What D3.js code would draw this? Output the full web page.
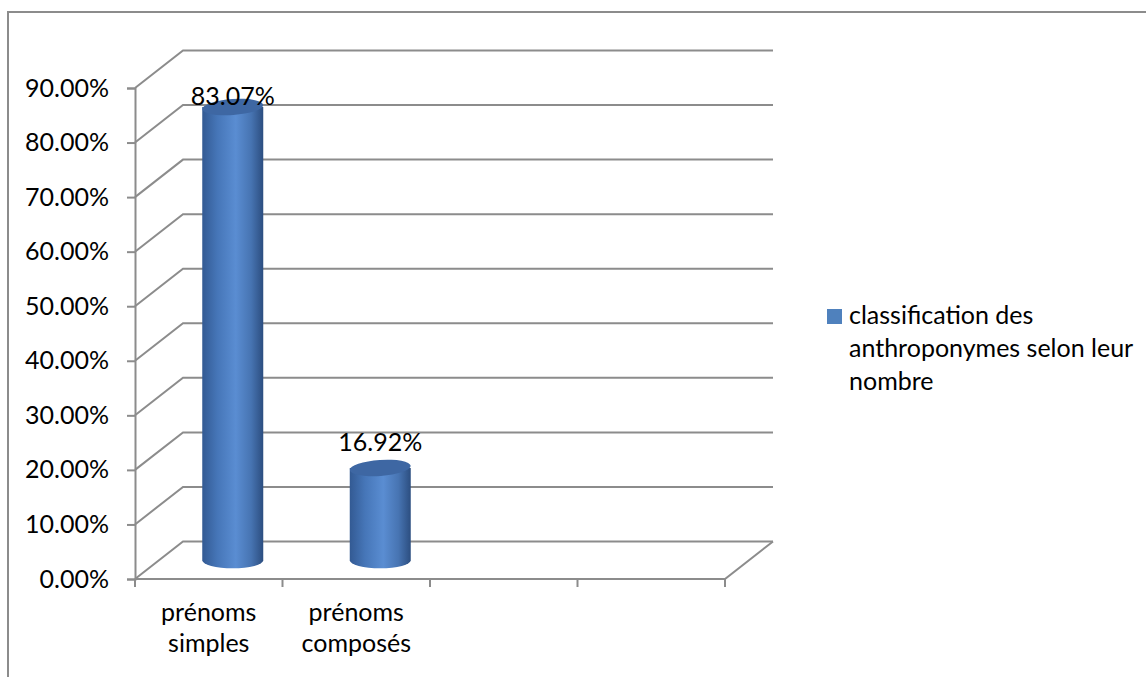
<!DOCTYPE html>
<html>
<head>
<meta charset="utf-8">
<script src="https://cdn.jsdelivr.net/npm/d3@7"></script>
<style>
  body { margin: 0; background: #fff; }
  svg { display: block; font-family: Lato, 'Open Sans', sans-serif; }
</style>
</head>
<body>
<svg></svg>
<script>
// data
var categories = ['prénoms simples', 'prénoms composés', '', '']
var values = [0.8307, 0.1692, null, null]
var labels = ['83.07%', '16.92%']
var yTicks = [0, 0.1, 0.2, 0.3, 0.4, 0.5, 0.6, 0.7, 0.8, 0.9]
var seriesName = ['classification des', 'anthroponymes selon leur', 'nombre']

var w = 1146
var h = 677

var svg = d3.select('svg')
    .attr('width', w)
    .attr('height', h)

var grey = '#8c8c8c'
var fs = '25px'
var dx = 48
var dy = -37.5

// chart frame
svg.append('path')
  .attr('d', 'M' + 8 + ',' + h + 'V12H' + w)
  .attr('fill', 'none')
  .attr('stroke', grey)
  .attr('stroke-width', 2)

var x = d3.scaleBand()
    .domain(d3.range(categories.length))
    .range([135, 725])
    .paddingInner(0)

var y = d3.scaleLinear()
    .domain([0, 0.9])
    .range([579, 88])

var g = svg.append('g')

// walls and gridlines
yTicks.forEach(function (t) {
  var yy = y(t)
  g.append('path')
    .attr('d', 'M' + x.range()[0] + ',' + yy + 'L' + (x.range()[0] + dx) + ',' + (yy + dy) +
      'H' + (x.range()[1] + dx))
    .attr('fill', 'none')
    .attr('stroke', grey)
    .attr('stroke-width', 2)
})

// floor front edge
g.append('path')
  .attr('d', 'M' + x.range()[0] + ',' + y(0) + 'H' + x.range()[1] +
    'L' + (x.range()[1] + dx) + ',' + (y(0) + dy))
  .attr('fill', 'none')
  .attr('stroke', grey)
  .attr('stroke-width', 2)

// y axis
var yAxis = d3.axisLeft(y)
    .tickValues(yTicks)
    .tickSize(8)
    .tickPadding(18)
    .tickFormat(d3.format('.2%'))

var ya = g.append('g')
  .attr('transform', 'translate(' + x.range()[0] + ',0)')
  .call(yAxis)
ya.select('.domain').attr('stroke', grey).attr('stroke-width', 2)
ya.selectAll('.tick line').attr('stroke', grey).attr('stroke-width', 2)
ya.selectAll('.tick text')
  .attr('fill', '#000')
  .style('font-size', fs)
  .style('font-family', 'Lato, sans-serif')

// x axis ticks (category boundaries)
var bounds = d3.range(categories.length + 1).map(function (i) {
  return x.range()[0] + i * x.bandwidth()
})
g.selectAll('.xtick')
  .data(bounds)
  .enter()
  .append('line')
  .attr('x1', function (d) { return d })
  .attr('x2', function (d) { return d })
  .attr('y1', y(0))
  .attr('y2', y(0) + 8)
  .attr('stroke', grey)
  .attr('stroke-width', 2)

// x labels
categories.forEach(function (c, i) {
  if (!c) return
  var words = c.split(' ')
  var t = g.append('text')
    .attr('x', x(i) + x.bandwidth() / 2)
    .attr('y', 621)
    .attr('text-anchor', 'middle')
    .style('font-size', fs)
  words.forEach(function (wd, k) {
    t.append('tspan')
      .attr('x', x(i) + x.bandwidth() / 2)
      .attr('dy', k === 0 ? 0 : 31)
      .text(wd)
  })
})

// cylinder gradients
var defs = svg.append('defs')
var grad = defs.append('linearGradient')
  .attr('id', 'cyl')
  .attr('x1', '0%').attr('x2', '100%')
  .attr('y1', '0%').attr('y2', '0%')
grad.append('stop').attr('offset', '0%').attr('stop-color', '#335a93')
grad.append('stop').attr('offset', '25%').attr('stop-color', '#4676b8')
grad.append('stop').attr('offset', '55%').attr('stop-color', '#5a8dd2')
grad.append('stop').attr('offset', '80%').attr('stop-color', '#4774b2')
grad.append('stop').attr('offset', '100%').attr('stop-color', '#2c4e80')

var rx = 30.5
var ry = 8

var bars = g.selectAll('.bar')
  .data(values.map(function (v, i) { return { v: v, i: i } }).filter(function (d) { return d.v != null }))
  .enter()
  .append('g')
  .attr('class', 'bar')

function cx (d) { return x(d.i) + x.bandwidth() / 2 + dx / 2 }
function bottomY () { return y(0) + dy / 2 }
function topY (d) { return y(d.v) + dy / 2 }

bars.append('path')
  .attr('d', function (d) {
    var c = cx(d)
    var b = bottomY()
    var t = topY(d)
    return 'M' + (c - rx) + ',' + t + 'V' + b +
      'A' + rx + ',' + ry + ' 0 0 0 ' + (c + rx) + ',' + b +
      'V' + t + 'Z'
  })
  .attr('fill', 'url(#cyl)')

bars.append('ellipse')
  .attr('cx', cx)
  .attr('cy', topY)
  .attr('rx', rx)
  .attr('ry', ry)
  .attr('fill', '#3e67a3')
  .attr('transform', function (d) {
    return 'rotate(-4,' + cx(d) + ',' + topY(d) + ')'
  })

// value labels
bars.append('text')
  .attr('x', cx)
  .attr('y', function (d) { return Math.max(topY(d) - 17, y(0.9) + 17) })
  .attr('text-anchor', 'middle')
  .style('font-size', fs)
  .text(function (d) { return labels[d.i] })

// legend
var lg = svg.append('g')
  .attr('transform', 'translate(827,309)')
lg.append('rect')
  .attr('width', 15)
  .attr('height', 15)
  .attr('fill', '#4f81bd')
var lt = lg.append('text')
  .attr('x', 22)
  .attr('y', 15)
  .style('font-size', fs)
seriesName.forEach(function (s, k) {
  lt.append('tspan')
    .attr('x', 22)
    .attr('dy', k === 0 ? 0 : 33)
    .text(s)
})
</script>
</body>
</html>
